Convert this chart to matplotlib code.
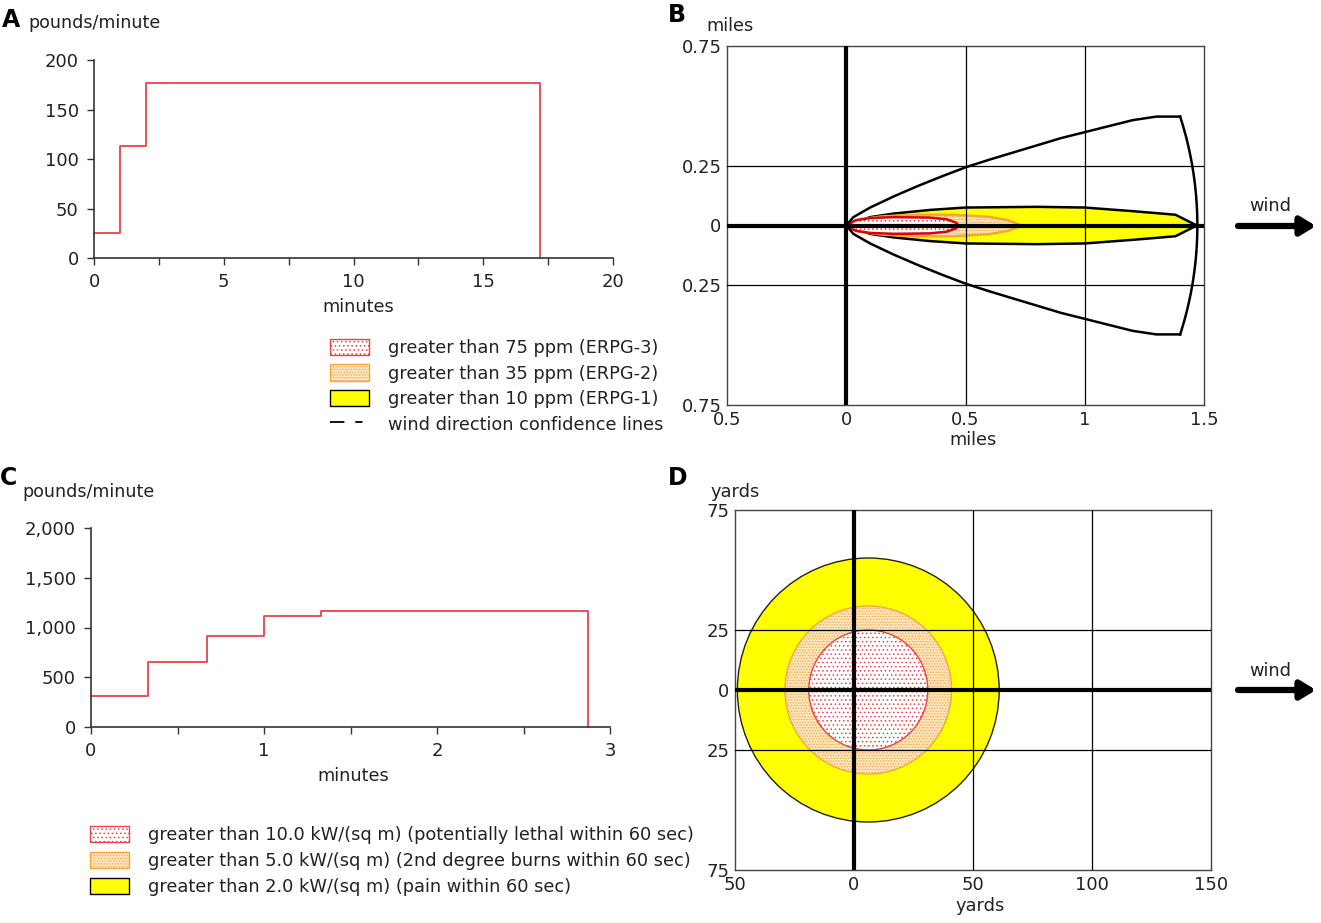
import numpy as np
import matplotlib
matplotlib.use("Agg")
import matplotlib.pyplot as plt
from matplotlib.patches import Patch, Circle
from matplotlib.lines import Line2D
from matplotlib.ticker import FuncFormatter

# ---- data ----
# A: release rate (pounds/minute) vs minutes, step edges
a_edges = [0, 1, 2, 17.2]
a_rates = [25, 113, 177]

# C: release rate (pounds/minute) vs minutes
c_edges = [0, 0.33, 0.67, 1.0, 1.33, 2.87]
c_rates = [310, 650, 910, 1115, 1170]

# B: plume half-widths (miles) along downwind distance (miles)
erpg1_x = [0, 0.1, 0.2, 0.35, 0.5, 0.8, 1.0, 1.2, 1.38, 1.47]
erpg1_w = [0, 0.035, 0.05, 0.065, 0.075, 0.078, 0.075, 0.06, 0.045, 0]
erpg2_x = [0, 0.05, 0.15, 0.3, 0.45, 0.6, 0.68, 0.735]
erpg2_w = [0, 0.025, 0.038, 0.045, 0.045, 0.036, 0.022, 0]
erpg3_x = [0, 0.04, 0.1, 0.2, 0.35, 0.42, 0.46, 0.47]
erpg3_w = [0, 0.022, 0.031, 0.035, 0.033, 0.026, 0.012, 0]
conf_x = [0, 0.03, 0.1, 0.2, 0.3, 0.4, 0.5, 0.6, 0.7, 0.8, 0.9, 1.0, 1.1, 1.2, 1.3, 1.4]
conf_y = [0, 0.035, 0.075, 0.122, 0.165, 0.205, 0.243, 0.275, 0.305, 0.335, 0.365, 0.39, 0.415, 0.44, 0.455, 0.455]

# D: thermal radiation zones (yards)
zone_center = (6, 0)
zone_radius = [55, 35, 25]   # 2.0, 5.0, 10.0 kW/(sq m)

legend_a = ["greater than 75 ppm (ERPG-3)", "greater than 35 ppm (ERPG-2)",
            "greater than 10 ppm (ERPG-1)", "wind direction confidence lines"]
legend_c = ["greater than 10.0 kW/(sq m) (potentially lethal within 60 sec)",
            "greater than 5.0 kW/(sq m) (2nd degree burns within 60 sec)",
            "greater than 2.0 kW/(sq m) (pain within 60 sec)"]

RED = "#e8434a"
ORANGE = "#f4a838"
PEACH = "#fde6c0"
YELLOW = "#ffff00"
TXT = "#222222"
RED_DOTS = "...."
OR_DOTS = "......"

plt.rcParams["hatch.linewidth"] = 0.6
plt.rcParams["font.family"] = ["DejaVu Sans"]

W, H = 1321, 923
fig = plt.figure(figsize=(W / 100, H / 100), dpi=100)


def rect(l, t, r, b):
    return [l / W, 1 - b / H, (r - l) / W, (b - t) / H]


def fx(px):
    return px / W


def fy(py):
    return 1 - py / H


def rate_axes(ax, edges, rates, xmax, ymax, xticks, xlabels, yticks):
    xs = [edges[0]]
    ys = [rates[0]]
    for i, r in enumerate(rates):
        xs += [edges[i], edges[i + 1]]
        ys += [r, r]
    xs.append(edges[-1])
    ys.append(0)
    ax.plot(xs, ys, color=RED, lw=1.3, clip_on=False)
    ax.set_xlim(0, xmax)
    ax.set_ylim(0, ymax)
    for s in ["top", "right"]:
        ax.spines[s].set_visible(False)
    for s in ["left", "bottom"]:
        ax.spines[s].set_color("#333333")
        ax.spines[s].set_linewidth(1.2)
    ax.set_xticks(xticks)
    ax.set_xticklabels(xlabels)
    ax.set_yticks(yticks)
    ax.yaxis.set_major_formatter(FuncFormatter(lambda v, p: f"{v:,.0f}"))
    ax.tick_params(labelsize=13, colors="#333333", labelcolor=TXT, length=5, width=1, pad=6)


# ---- A ----
axA = fig.add_axes(rect(94, 60, 613, 258))
rate_axes(axA, a_edges, a_rates, 20, 200, np.arange(0, 20.1, 2.5),
          ["0", "", "5", "", "10", "", "15", "", "20"], [0, 50, 100, 150, 200])
fig.text(fx(2), fy(20), "A", fontsize=17, fontweight="bold", va="center")
fig.text(fx(28), fy(23), "pounds/minute", fontsize=12.6, color=TXT, va="center")
fig.text(fx(358), fy(307), "minutes", fontsize=12.8, color=TXT, ha="center", va="center")

# ---- C ----
axC = fig.add_axes(rect(91, 528, 610, 727))
rate_axes(axC, c_edges, c_rates, 3, 2000, np.arange(0, 3.01, 0.5),
          ["0", "", "1", "", "2", "", "3"], [0, 500, 1000, 1500, 2000])
fig.text(fx(0), fy(478), "C", fontsize=17, fontweight="bold", va="center")
fig.text(fx(22), fy(492), "pounds/minute", fontsize=12.6, color=TXT, va="center")
fig.text(fx(353), fy(776), "minutes", fontsize=12.8, color=TXT, ha="center", va="center")


def map_frame(ax, xlim, ylim, xticks, xlabels, yticks, ylabels, grid_x, grid_y):
    ax.set_xlim(*xlim)
    ax.set_ylim(*ylim)
    ax.set_xticks(xticks)
    ax.set_xticklabels(xlabels)
    ax.set_yticks(yticks)
    ax.set_yticklabels(ylabels)
    ax.tick_params(length=0, labelsize=13, labelcolor=TXT, pad=4)
    for s in ax.spines.values():
        s.set_color("#444444")
        s.set_linewidth(1)
    for g in grid_x:
        ax.axvline(g, color="black", lw=0.9, zorder=20)
    for g in grid_y:
        ax.axhline(g, color="black", lw=0.9, zorder=20)
    ax.axvline(0, color="black", lw=3, zorder=21)
    ax.axhline(0, color="black", lw=3, zorder=21)


# ---- B ----
axB = fig.add_axes(rect(727, 46, 1204, 405))
zones_b = [(erpg1_x, erpg1_w, YELLOW, YELLOW, None, "black"),
           (erpg2_x, erpg2_w, PEACH, ORANGE, OR_DOTS, ORANGE),
           (erpg3_x, erpg3_w, "white", RED, RED_DOTS, "#e00000")]
for k, (xs, ws, face, dots, hatch, edge) in enumerate(zones_b):
    px = list(xs) + list(xs[::-1])
    py = list(ws) + [-w for w in ws[::-1]]
    axB.fill(px, py, facecolor=face, edgecolor=dots, hatch=hatch, lw=0, zorder=2 + 2 * k)
    axB.fill(px, py, facecolor="none", edgecolor=edge, lw=1.8, zorder=3 + 2 * k)
cx = np.array(conf_x)
cy = np.array(conf_y)
axB.plot(cx, cy, color="black", lw=1.8, zorder=22)
axB.plot(cx, -cy, color="black", lw=1.8, zorder=22)
r_end = np.hypot(cx[-1], cy[-1])
ang = np.linspace(np.arctan2(cy[-1], cx[-1]), -np.arctan2(cy[-1], cx[-1]), 60)
axB.plot(r_end * np.cos(ang), r_end * np.sin(ang), color="black", lw=1.8, zorder=22)
map_frame(axB, (-0.5, 1.5), (-0.75, 0.75), [-0.5, 0, 0.5, 1, 1.5],
          ["0.5", "0", "0.5", "1", "1.5"], [-0.75, -0.25, 0, 0.25, 0.75],
          ["0.75", "0.25", "0", "0.25", "0.75"], [0.5, 1.0], [-0.25, 0.25])
fig.text(fx(668), fy(15), "B", fontsize=17, fontweight="bold", va="center")
fig.text(fx(730), fy(26), "miles", fontsize=12.8, color=TXT, ha="center", va="center")
fig.text(fx(973), fy(440), "miles", fontsize=12.8, color=TXT, ha="center", va="center")

# ---- D ----
axD = fig.add_axes(rect(735, 510, 1211, 870))
zones_d = zip(zone_radius, [YELLOW, PEACH, "white"], [YELLOW, ORANGE, RED],
              [None, OR_DOTS, RED_DOTS], ["#222222", ORANGE, RED])
for k, (r, face, dots, hatch, edge) in enumerate(zones_d):
    axD.add_patch(Circle(zone_center, r, facecolor=face, edgecolor=dots, hatch=hatch,
                         lw=0, zorder=2 + 2 * k))
    axD.add_patch(Circle(zone_center, r, facecolor="none", edgecolor=edge, lw=1,
                         zorder=3 + 2 * k))
map_frame(axD, (-50, 150), (-75, 75), [-50, 0, 50, 100, 150],
          ["50", "0", "50", "100", "150"], [-75, -25, 0, 25, 75],
          ["75", "25", "0", "25", "75"], [50, 100], [-25, 25])
fig.text(fx(668), fy(478), "D", fontsize=17, fontweight="bold", va="center")
fig.text(fx(735), fy(492), "yards", fontsize=12.8, color=TXT, ha="center", va="center")
fig.text(fx(980), fy(906), "yards", fontsize=12.8, color=TXT, ha="center", va="center")

# ---- wind arrows ----
for y_arrow, y_text in [(226, 206), (690, 671)]:
    fig.text(fx(1270), fy(y_text), "wind", fontsize=12.8, color=TXT, ha="center", va="center")
    axB.annotate("", xy=(fx(1316), fy(y_arrow)), xytext=(fx(1238), fy(y_arrow)),
                 xycoords="figure fraction", textcoords="figure fraction",
                 arrowprops=dict(arrowstyle="-|>,head_length=0.9,head_width=0.55",
                                 lw=4.5, color="black", shrinkA=0, shrinkB=0))

# ---- legends ----
h_a = [Patch(facecolor="white", edgecolor=RED, hatch=RED_DOTS, lw=1),
       Patch(facecolor=PEACH, edgecolor=ORANGE, hatch=OR_DOTS, lw=1),
       Patch(facecolor=YELLOW, edgecolor="black", lw=1),
       Line2D([], [], color="black", lw=1.3, dashes=(8, 6, 4, 20))]
fig.legend(h_a, legend_a, loc="upper left", bbox_to_anchor=(fx(330), fy(339)),
           frameon=False, fontsize=12.8, handlelength=2.2, handleheight=1.05,
           handletextpad=1.05, labelspacing=0.4, borderpad=0, borderaxespad=0,
           labelcolor=TXT)

h_c = [Patch(facecolor="white", edgecolor=RED, hatch=RED_DOTS, lw=1),
       Patch(facecolor=PEACH, edgecolor=ORANGE, hatch=OR_DOTS, lw=1),
       Patch(facecolor=YELLOW, edgecolor="black", lw=1)]
fig.legend(h_c, legend_c, loc="upper left", bbox_to_anchor=(fx(90), fy(826)),
           frameon=False, fontsize=12.8, handlelength=2.2, handleheight=1.05,
           handletextpad=1.05, labelspacing=0.42, borderpad=0, borderaxespad=0,
           labelcolor=TXT)

fig.savefig("out.png", dpi=100)
